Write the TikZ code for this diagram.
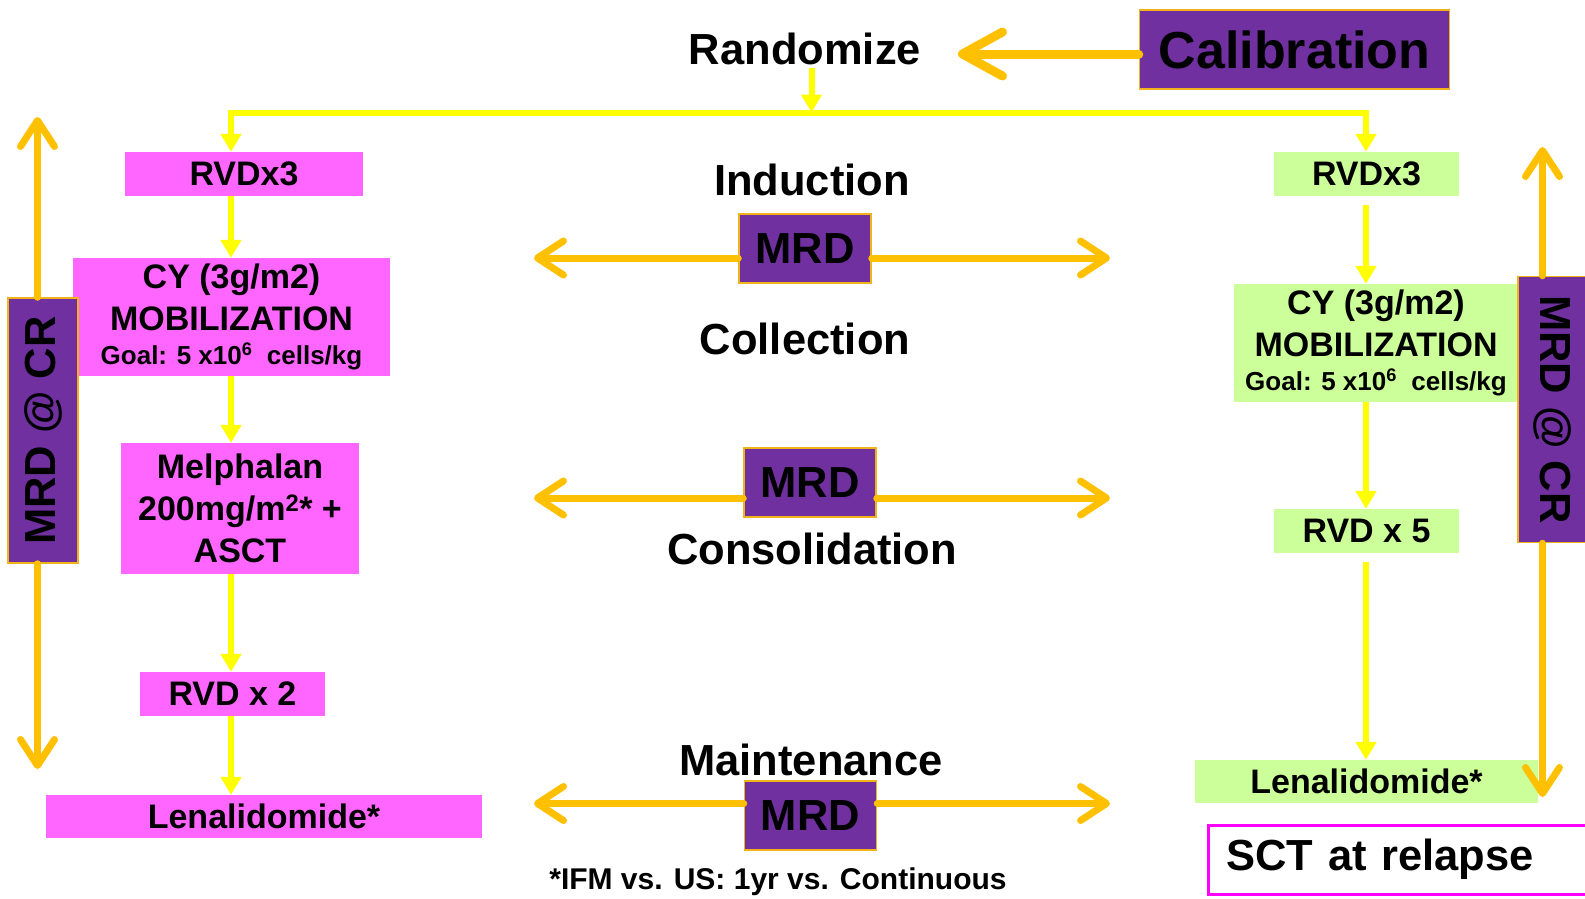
\documentclass[tikz,border=0pt]{standalone}
\usepackage{fontspec}
\setmainfont{Liberation Sans}
\usetikzlibrary{arrows.meta,positioning}

\definecolor{mrdpurple}{HTML}{7030A0}
\definecolor{arrorange}{HTML}{FFC000}
\definecolor{edgeorange}{HTML}{F2B31A}
\definecolor{flowyellow}{HTML}{FFFF00}
\definecolor{armpink}{HTML}{FF66FF}
\definecolor{armgreen}{HTML}{CCFF99}
\definecolor{relapsemag}{HTML}{FF00FF}

\newcommand{\calibfont}{\fontsize{52}{60}\selectfont\bfseries}
\newcommand{\stagefont}{\fontsize{43.5}{50}\selectfont\bfseries}
\newcommand{\boxfont}{\fontsize{34}{42}\selectfont\bfseries}
\newcommand{\goalfont}{\fontsize{26}{30}\selectfont\bfseries}
\newcommand{\notefont}{\fontsize{30}{36}\selectfont\bfseries}

\begin{document}
\begin{tikzpicture}[x=1pt,y=-1pt,
  every node/.style={inner sep=0pt, font=\boxfont},
  pinkbox/.style={fill=armpink},
  greenbox/.style={fill=armgreen},
  mrdbox/.style={fill=mrdpurple, draw=edgeorange, line width=1.5pt},
  stagetext/.style={font=\stagefont, inner sep=3pt},
  yarr/.style={draw=flowyellow, line width=6pt, -{Triangle[length=18pt,width=20pt]}},
  oarr/.style={draw=arrorange, line width=7pt, line cap=round,
    -{Straight Barb[length=26pt,width=34pt,line cap=round,line join=round]}},
  bigoarr/.style={draw=arrorange, line width=9pt, line cap=round,
    -{Straight Barb[length=40pt,width=44pt,line cap=round,line join=round]}}]
\useasboundingbox (0,0) rectangle (1585,898);

% top
\node[stagetext] (rand) at (805,48.5) {Randomize};
\node[mrdbox, minimum width=310pt, minimum height=79pt, font=\calibfont] (calib) at (1294.5,49.5) {Calibration};
\coordinate (randtip) at (958,54);
\draw[bigoarr] (calib.west |- randtip) -- (randtip);

% left arm
\node[pinkbox, minimum width=238pt, minimum height=44pt] (rvdl) at (244,174) {RVDx3};
\node[pinkbox, minimum width=317pt, minimum height=118pt, align=center] (cyl) at (231.5,317)
  {CY (3g/m2)\\MOBILIZATION\\[-8pt]{\goalfont Goal: 5 x10\textsuperscript{6}\ \ cells/kg}};
\node[pinkbox, minimum width=238pt, minimum height=131pt, align=center] (melph) at (240,508.5)
  {Melphalan\\200mg/m\textsuperscript{2}* +\\ASCT};
\node[pinkbox, minimum width=185pt, minimum height=44pt] (rvd2) at (232.5,694) {RVD x 2};
\node[pinkbox, minimum width=436pt, minimum height=43pt] (lenl) at (264,816.5) {Lenalidomide*};
\node[mrdbox, rotate=90, minimum width=265pt, minimum height=70pt, font=\stagefont] (mrdcrl) at (43,430.5) {MRD @ CR};

% right arm
\node[greenbox, minimum width=185pt, minimum height=44pt] (rvdr) at (1366.5,174) {RVDx3};
\node[greenbox, minimum width=284pt, minimum height=118pt, align=center] (cyr) at (1376,343)
  {CY (3g/m2)\\MOBILIZATION\\[-8pt]{\goalfont Goal: 5 x10\textsuperscript{6}\ \ cells/kg}};
\node[greenbox, minimum width=185pt, minimum height=44pt] (rvd5) at (1366.5,531) {RVD x 5};
\node[greenbox, minimum width=343pt, minimum height=43pt] (lenr) at (1366.5,781.5) {Lenalidomide*};
\node[mrdbox, rotate=-90, minimum width=266pt, minimum height=68pt, font=\stagefont] (mrdcrr) at (1552,409.5) {MRD @ CR};
\node[draw=relapsemag, line width=3pt, fill=white, anchor=west, minimum width=385pt, minimum height=69pt,
  text width=349pt, inner xsep=18pt, align=left, font=\stagefont] (sct) at (1207,859.7) {SCT at relapse};

% middle
\node[stagetext] (ind) at (812,180) {Induction};
\node[mrdbox, minimum width=132pt, minimum height=69pt, font=\stagefont] (mrdA) at (805,248.5) {MRD};
\node[stagetext] (coll) at (805,339) {Collection};
\node[mrdbox, minimum width=132pt, minimum height=69pt, font=\stagefont] (mrdB) at (810,482.5) {MRD};
\node[stagetext] (cons) at (812,549) {Consolidation};
\node[stagetext] (maint) at (811,760) {Maintenance};
\node[mrdbox, minimum width=132pt, minimum height=69pt, font=\stagefont] (mrdC) at (810.5,815.5) {MRD};
\node[font=\notefont] (note) at (778,882) {*IFM vs. US: 1yr vs. Continuous};

% randomisation split
\coordinate (hub) at (811.5,112.5);
\coordinate (lcol) at (231,112.5);
\coordinate (rcol) at (1366,112.5);
\draw[yarr] (rand.south -| hub) -- (hub);
\draw[yarr] (hub) -| (rvdl.north -| lcol);
\draw[yarr] (hub) -| (rvdr.north -| rcol);

% treatment flow
\draw[yarr] (rvdl.south -| lcol) -- (cyl.north -| lcol);
\draw[yarr] (cyl.south -| lcol) -- (melph.north -| lcol);
\draw[yarr] (melph.south -| lcol) -- (rvd2.north -| lcol);
\draw[yarr] (rvd2.south -| lcol) -- (lenl.north -| lcol);
\draw[yarr, shorten <=9pt] (rvdr.south -| rcol) -- (cyr.north -| rcol);
\draw[yarr] (cyr.south -| rcol) -- (rvd5.north -| rcol);
\draw[yarr, shorten <=9pt] (rvd5.south -| rcol) -- (lenr.north -| rcol);

% MRD time points
\coordinate (aL) at (534,258);
\coordinate (aR) at (1110,258);
\coordinate (bL) at (534,498);
\coordinate (bR) at (1110,498);
\coordinate (cL) at (534,803.5);
\coordinate (cR) at (1110,803.5);
\draw[oarr] (mrdA.west |- aL) -- (aL);
\draw[oarr] (mrdA.east |- aR) -- (aR);
\draw[oarr] (mrdB.west |- bL) -- (bL);
\draw[oarr] (mrdB.east |- bR) -- (bR);
\draw[oarr] (mrdC.west |- cL) -- (cL);
\draw[oarr] (mrdC.east |- cR) -- (cR);

% MRD at CR spans
\coordinate (ltop) at (37.5,117);
\coordinate (lbot) at (37.5,769);
\coordinate (rtop) at (1542.5,147);
\coordinate (rbot) at (1542.5,797);
\draw[oarr] (mrdcrl.east -| ltop) -- (ltop);
\draw[oarr] (mrdcrl.west -| lbot) -- (lbot);
\draw[oarr] (mrdcrr.west -| rtop) -- (rtop);
\draw[oarr] (mrdcrr.east -| rbot) -- (rbot);
\end{tikzpicture}
\end{document}
